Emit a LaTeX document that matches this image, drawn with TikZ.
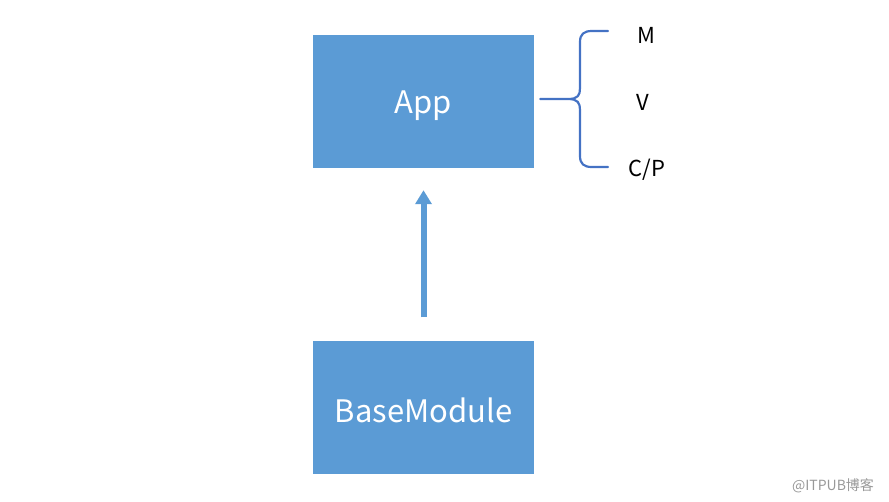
\documentclass[tikz,border=0pt]{standalone}
\usepackage{fontspec}
\setmainfont{Noto Sans CJK SC}
\usetikzlibrary{positioning,calc,arrows.meta}
\definecolor{boxblue}{HTML}{5B9BD5}
\definecolor{braceblue}{HTML}{4472C4}

\begin{document}
\begin{tikzpicture}[x=1pt,y=-1pt,
		box/.style={fill=boxblue,text=white,minimum width=221pt,minimum height=133pt,inner sep=0pt,font=\fontsize{31}{33}\selectfont},
		lbl/.style={font=\fontsize{22}{24}\selectfont},
		uparrow/.style={boxblue,line width=6pt,-{Triangle[width=16pt,length=14pt]}}]
		\useasboundingbox (0,0) rectangle (889,501);
		\node[box] (app) at (423.5,101.5) {};
		\node[box] (base) at (423.5,407) {};
		\node[text=white,font=\fontsize{31}{33}\selectfont] (applbl) at ($(app)+(0,4)$) {App};
		\node[text=white,font=\fontsize{31}{33}\selectfont] (baselbl) at ($(base)+(0,3)$) {BaseModule};
		%
		\draw[uparrow,shorten <=23pt,shorten >=22pt] (base) -- (app);
		%
		\node[lbl] (m) at (646,35) {M};
		\node[lbl] (v) at (643,102) {V};
		\node[lbl] (cp) at (647,170) {C/P};
		\coordinate (tip) at ($(app.east)+(6,-2.5)$);
		\coordinate (top) at (608,31);
		\coordinate (bot) at (608,167);
		\draw[braceblue,line width=2.2pt,line cap=round,line join=round]
			(tip) -- ++(28,0) .. controls ++(10,0) and (580,95) .. (580,88) -- (580,42)
			.. controls (580,34) and (584,31) .. (592,31) -- (top)
			(568,99) .. controls (578,99) and (580,103) .. (580,110) -- (580,156)
			.. controls (580,164) and (584,167) .. (592,167) -- (bot);
		%
		\node[text=black!40,font=\fontsize{14}{16}\selectfont] (mark) at (833,486) {@ITPUB博客};
	\end{tikzpicture}
\end{document}
